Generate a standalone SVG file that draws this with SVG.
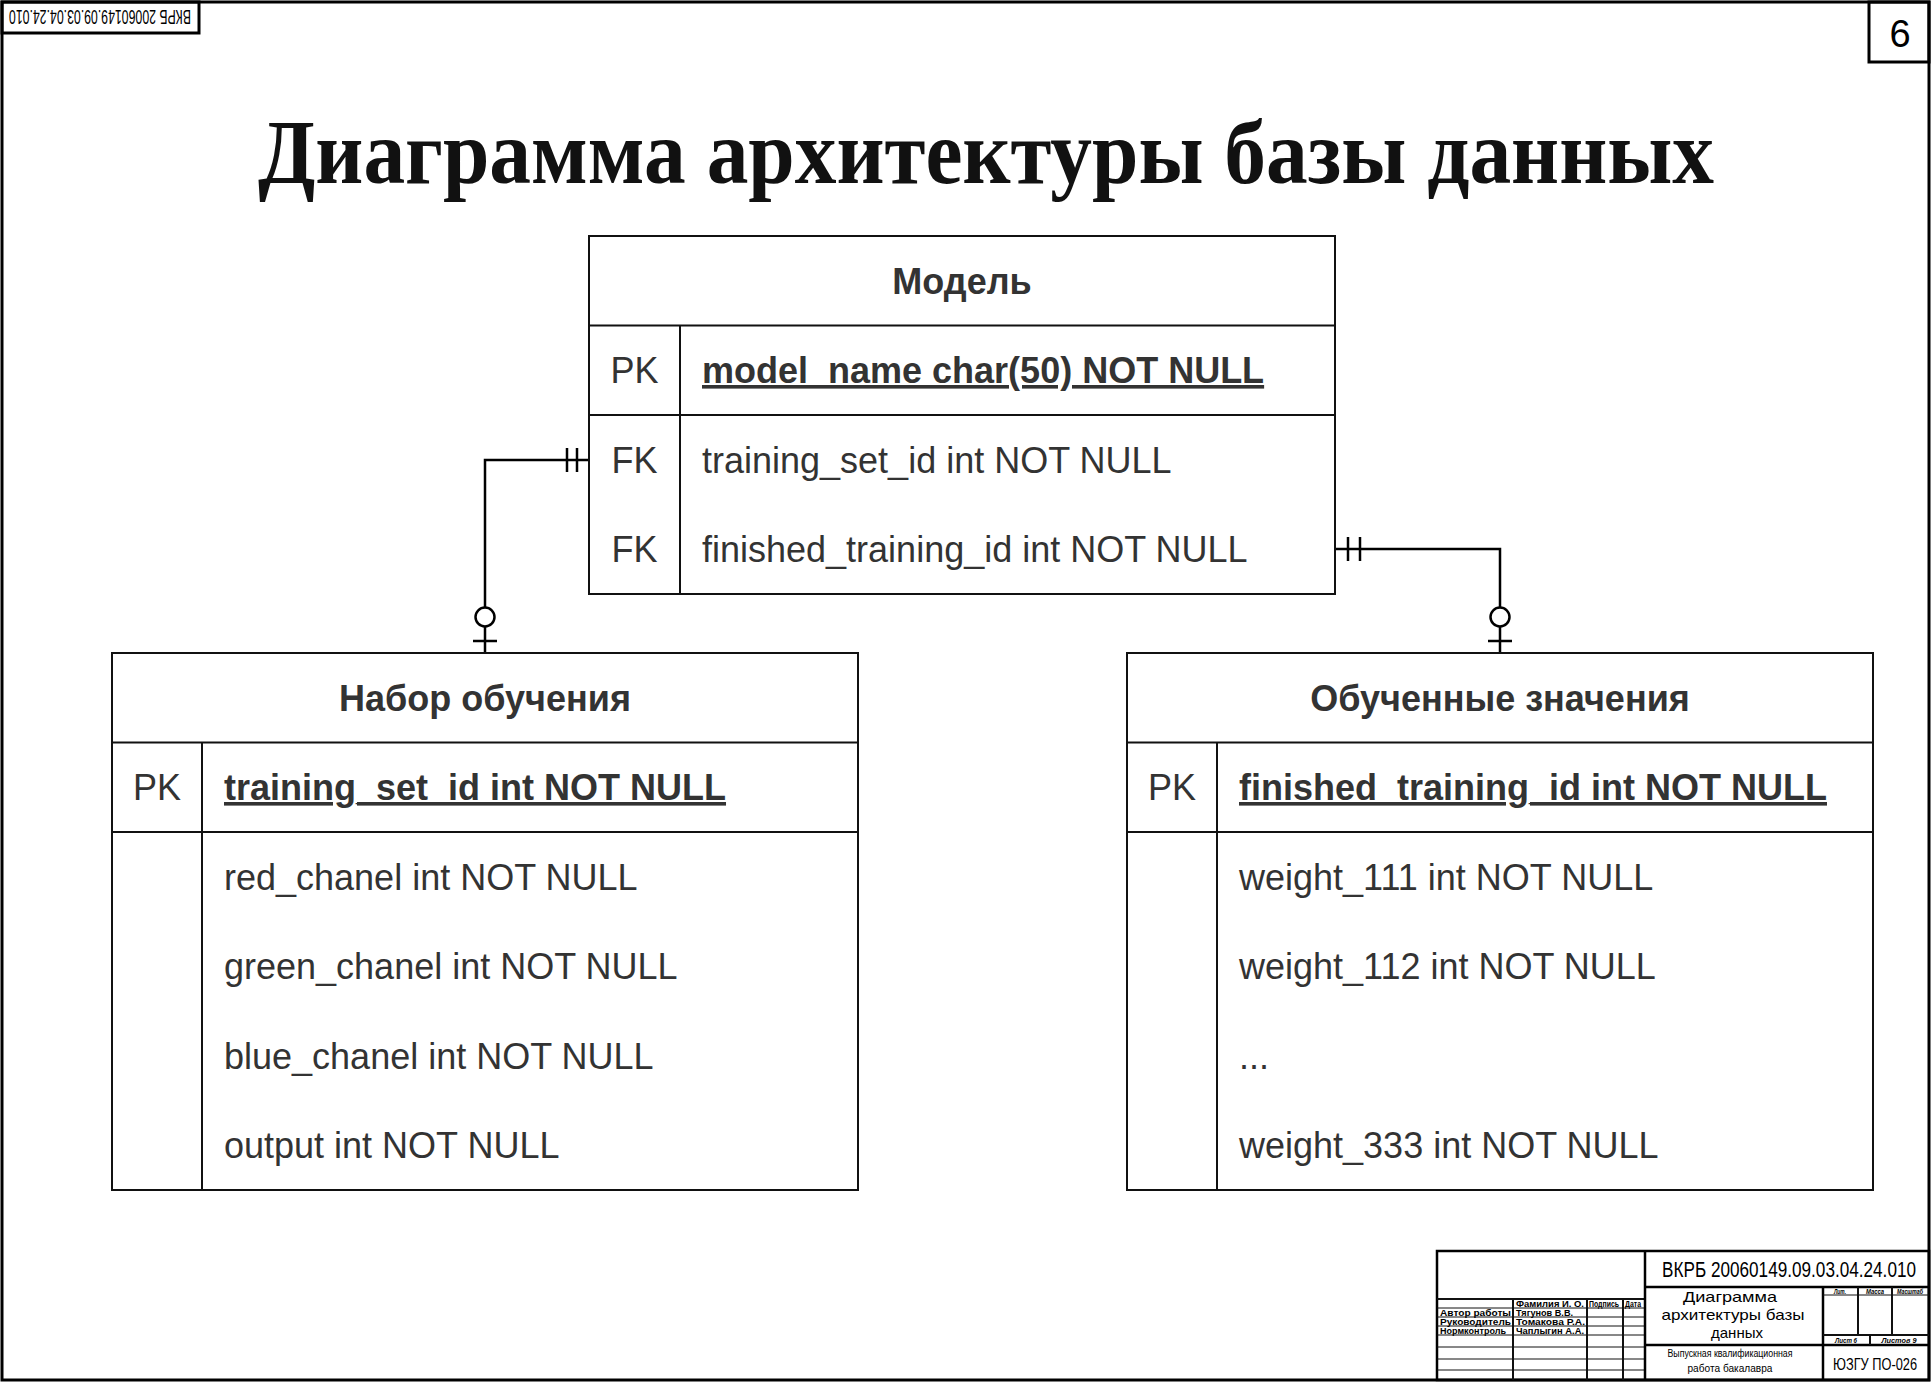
<svg xmlns="http://www.w3.org/2000/svg" width="1931" height="1383" viewBox="0 0 1931 1383">
<style>
.frame{fill:none;stroke:#000;stroke-width:3}
.box{fill:#fff;stroke:#111;stroke-width:2}
.ln{fill:none;stroke:#111;stroke-width:2}
.thin{fill:none;stroke:#111;stroke-width:1}
.th{fill:none;stroke:#000;stroke-width:2.5}
.hd{font-family:"Liberation Sans",Arial,sans-serif;font-size:36px;font-weight:bold;fill:#333;text-anchor:middle}
.key{font-family:"Liberation Sans",Arial,sans-serif;font-size:36px;fill:#333;text-anchor:middle}
.pk{font-family:"Liberation Sans",Arial,sans-serif;font-size:36px;font-weight:bold;fill:#333;text-decoration:underline}
.fd{font-family:"Liberation Sans",Arial,sans-serif;font-size:36px;fill:#333}
.conn{fill:none;stroke:#000;stroke-width:2.5}
.circ{fill:#fff;stroke:#000;stroke-width:2.5}
.tb{font-family:"Liberation Sans",Arial,sans-serif;fill:#000}
.sm{font-family:"Liberation Sans",Arial,sans-serif;font-size:9px;font-weight:bold;fill:#000}
.it{font-family:"Liberation Sans",Arial,sans-serif;font-size:7px;font-style:italic;font-weight:bold;fill:#000;text-anchor:middle}
</style>

<g id="page-frame">
<rect class="frame" x="2" y="2" width="1927" height="1378"/>
</g>

<g id="stamp">
<rect class="frame" x="2" y="2" width="197" height="31"/>
<text class="tb" font-size="20" transform="rotate(180 100 17.5)" x="9" y="25" textLength="182" lengthAdjust="spacingAndGlyphs">ВКРБ 20060149.09.03.04.24.010</text>
</g>

<g id="page-number">
<rect class="frame" x="1869" y="2" width="60" height="60"/>
<text class="tb" font-size="38" x="1900" y="47" text-anchor="middle" fill="#111">6</text>
</g>

<g id="title">
<text x="258" y="183" font-family="'Liberation Serif','Times New Roman',serif" font-size="90" font-weight="bold" fill="#111" textLength="1456" lengthAdjust="spacingAndGlyphs">Диаграмма архитектуры базы данных</text>
</g>

<g id="connectors">
<path class="conn" d="M589,460 H485 V653"/>
<line class="conn" x1="567" y1="448" x2="567" y2="472"/>
<line class="conn" x1="577" y1="448" x2="577" y2="472"/>
<circle class="circ" cx="485" cy="617" r="9.5"/>
<line class="conn" x1="473" y1="641" x2="497" y2="641"/>

<path class="conn" d="M1335,549 H1500 V653"/>
<line class="conn" x1="1348" y1="537" x2="1348" y2="561"/>
<line class="conn" x1="1360" y1="537" x2="1360" y2="561"/>
<circle class="circ" cx="1500" cy="617" r="9.5"/>
<line class="conn" x1="1488" y1="641" x2="1512" y2="641"/>
</g>

<g id="table-model">
<rect class="box" x="589" y="236" width="746" height="358"/>
<line class="ln" x1="589" y1="325.5" x2="1335" y2="325.5"/>
<line class="ln" x1="589" y1="415" x2="1335" y2="415"/>
<line class="ln" x1="680" y1="325.5" x2="680" y2="594"/>
<text class="hd" x="962" y="294">Модель</text>
<text class="key" x="634.5" y="383">PK</text>
<text class="pk" x="702" y="383">model_name char(50) NOT NULL</text>
<text class="key" x="634.5" y="473">FK</text>
<text class="fd" x="702" y="473">training_set_id int NOT NULL</text>
<text class="key" x="634.5" y="562">FK</text>
<text class="fd" x="702" y="562">finished_training_id int NOT NULL</text>
</g>

<g id="table-training-set">
<rect class="box" x="112" y="653" width="746" height="537"/>
<line class="ln" x1="112" y1="742.5" x2="858" y2="742.5"/>
<line class="ln" x1="112" y1="832" x2="858" y2="832"/>
<line class="ln" x1="202" y1="742.5" x2="202" y2="1190"/>
<text class="hd" x="485" y="711">Набор обучения</text>
<text class="key" x="157" y="800">PK</text>
<text class="pk" x="224" y="800">training_set_id int NOT NULL</text>
<text class="fd" x="224" y="890">red_chanel int NOT NULL</text>
<text class="fd" x="224" y="979">green_chanel int NOT NULL</text>
<text class="fd" x="224" y="1069">blue_chanel int NOT NULL</text>
<text class="fd" x="224" y="1158">output int NOT NULL</text>
</g>

<g id="table-finished">
<rect class="box" x="1127" y="653" width="746" height="537"/>
<line class="ln" x1="1127" y1="742.5" x2="1873" y2="742.5"/>
<line class="ln" x1="1127" y1="832" x2="1873" y2="832"/>
<line class="ln" x1="1217" y1="742.5" x2="1217" y2="1190"/>
<text class="hd" x="1500" y="711">Обученные значения</text>
<text class="key" x="1172" y="800">PK</text>
<text class="pk" x="1239" y="800">finished_training_id int NOT NULL</text>
<text class="fd" x="1239" y="890">weight_111 int NOT NULL</text>
<text class="fd" x="1239" y="979">weight_112 int NOT NULL</text>
<text class="fd" x="1239" y="1069" font-size="26">...</text>
<text class="fd" x="1239" y="1158">weight_333 int NOT NULL</text>
</g>

<g id="title-block">
<rect class="th" x="1437" y="1251" width="492" height="129" fill="#fff"/>
<line class="ln" x1="1437" y1="1299" x2="1645" y2="1299"/>
<line class="thin" x1="1437" y1="1308" x2="1645" y2="1308"/>
<line class="thin" x1="1437" y1="1317" x2="1645" y2="1317"/>
<line class="thin" x1="1437" y1="1326" x2="1645" y2="1326"/>
<line class="thin" x1="1437" y1="1335" x2="1645" y2="1335"/>
<line class="thin" x1="1437" y1="1347" x2="1645" y2="1347"/>
<line class="thin" x1="1437" y1="1359" x2="1645" y2="1359"/>
<line class="thin" x1="1437" y1="1370" x2="1645" y2="1370"/>
<line class="ln" x1="1513" y1="1299" x2="1513" y2="1380"/>
<line class="ln" x1="1587" y1="1299" x2="1587" y2="1380"/>
<line class="ln" x1="1623" y1="1299" x2="1623" y2="1380"/>
<line class="th" x1="1645" y1="1251" x2="1645" y2="1380"/>
<text class="sm" x="1516" y="1306.5" textLength="68" lengthAdjust="spacingAndGlyphs">Фамилия И. О.</text>
<text class="sm" x="1589" y="1306.5" font-size="7" textLength="30" lengthAdjust="spacingAndGlyphs">Подпись</text>
<text class="sm" x="1625" y="1306.5" font-size="7" textLength="16" lengthAdjust="spacingAndGlyphs">Дата</text>
<text class="sm" x="1440" y="1315.5" textLength="71" lengthAdjust="spacingAndGlyphs">Автор работы</text>
<text class="sm" x="1440" y="1324.5" textLength="71" lengthAdjust="spacingAndGlyphs">Руководитель</text>
<text class="sm" x="1440" y="1333.5" textLength="66" lengthAdjust="spacingAndGlyphs">Нормконтроль</text>
<text class="sm" x="1516" y="1315.5" textLength="57" lengthAdjust="spacingAndGlyphs">Тягунов В.В.</text>
<text class="sm" x="1516" y="1324.5" textLength="69" lengthAdjust="spacingAndGlyphs">Томакова Р.А.</text>
<text class="sm" x="1516" y="1333.5" textLength="68" lengthAdjust="spacingAndGlyphs">Чаплыгин А.А.</text>
<line class="th" x1="1645" y1="1287" x2="1929" y2="1287"/>
<line class="th" x1="1645" y1="1345" x2="1929" y2="1345"/>
<line class="th" x1="1823" y1="1287" x2="1823" y2="1380"/>
<line class="thin" x1="1823" y1="1295" x2="1929" y2="1295"/>
<line class="ln" x1="1858" y1="1287" x2="1858" y2="1335"/>
<line class="ln" x1="1892" y1="1287" x2="1892" y2="1335"/>
<line class="ln" x1="1823" y1="1335" x2="1929" y2="1335"/>
<line class="ln" x1="1870" y1="1335" x2="1870" y2="1345"/>
<text class="tb" font-size="22" x="1662" y="1277" textLength="254" lengthAdjust="spacingAndGlyphs">ВКРБ 20060149.09.03.04.24.010</text>
<text class="tb" font-size="15" x="1730" y="1302" text-anchor="middle" textLength="94" lengthAdjust="spacingAndGlyphs">Диаграмма</text>
<text class="tb" font-size="15" x="1733" y="1320" text-anchor="middle" textLength="143" lengthAdjust="spacingAndGlyphs">архитектуры базы</text>
<text class="tb" font-size="15" x="1737" y="1338" text-anchor="middle" textLength="52" lengthAdjust="spacingAndGlyphs">данных</text>
<text class="tb" font-size="10" x="1730" y="1357" text-anchor="middle" textLength="125" lengthAdjust="spacingAndGlyphs">Выпускная квалификационная</text>
<text class="tb" font-size="10" x="1730" y="1372" text-anchor="middle" textLength="85" lengthAdjust="spacingAndGlyphs">работа бакалавра</text>
<text class="it" x="1840" y="1293.5" textLength="12" lengthAdjust="spacingAndGlyphs">Лит.</text>
<text class="it" x="1875" y="1293.5" textLength="18" lengthAdjust="spacingAndGlyphs">Масса</text>
<text class="it" x="1910" y="1293.5" textLength="26" lengthAdjust="spacingAndGlyphs">Масштаб</text>
<text class="it" x="1846" y="1343" font-size="8" textLength="22" lengthAdjust="spacingAndGlyphs">Лист 6</text>
<text class="it" x="1899" y="1343" font-size="8" textLength="35" lengthAdjust="spacingAndGlyphs">Листов 9</text>
<text class="tb" font-size="16" x="1875" y="1370" text-anchor="middle" textLength="84" lengthAdjust="spacingAndGlyphs">ЮЗГУ ПО-026</text>
</g>
</svg>
